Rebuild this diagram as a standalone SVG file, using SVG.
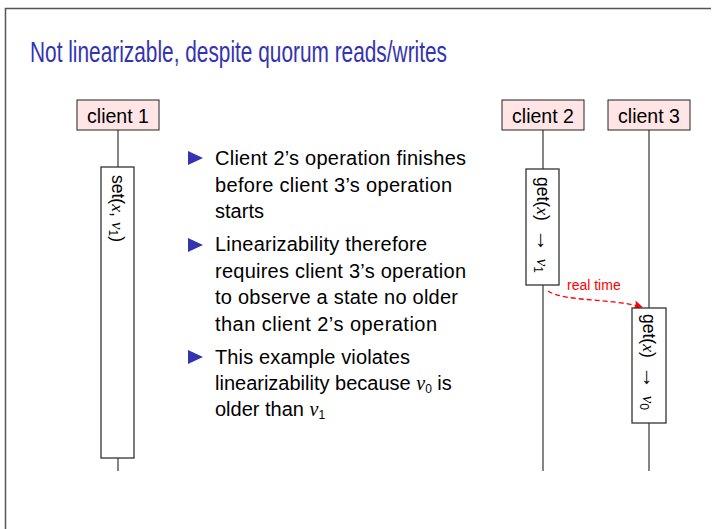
<svg xmlns="http://www.w3.org/2000/svg" width="712" height="529" viewBox="0 0 712 529">
<defs>
<style>
.frame{fill:none;stroke:#555;stroke-width:1.5}
.title{font-family:"Liberation Sans",Arial,sans-serif;font-size:30px;fill:#3333b3}
.cl{fill:#ffe5e5;stroke:#222;stroke-width:1}
.cltxt{font-family:"Liberation Sans",Arial,sans-serif;font-size:19.5px;fill:#000;text-anchor:middle}
.life{stroke:#444;stroke-width:1.3;fill:none}
.op{fill:#fff;stroke:#333;stroke-width:1.3}
.optxt{font-family:"Liberation Sans",Arial,sans-serif;font-size:17.5px;fill:#000}
.m{font-family:"Liberation Serif","Times New Roman",serif;font-style:italic}
.ar{font-family:"Liberation Serif","Times New Roman",serif;font-size:23px}
.sub{font-size:12px}
.body{font-family:"Liberation Sans",Arial,sans-serif;font-size:20px;fill:#000}
.bul{fill:#3333b3}
.rt{stroke:#ff0000;stroke-width:1.3;fill:none;stroke-dasharray:5,3}
.rttxt{font-family:"Liberation Sans",Arial,sans-serif;font-size:14px;fill:#ff0000}
</style>
<marker id="ah" viewBox="0 0 10 10" refX="9" refY="5" markerWidth="9" markerHeight="9" markerUnits="userSpaceOnUse" orient="auto">
<path d="M0,0 L10,5 L0,10 L2,5 z" fill="#ff0000"/>
</marker>
</defs>
<rect width="712" height="529" fill="#fff"/>
<path class="frame" d="M5.5,529 V8.5 H711"/>
<text class="title" x="30" y="62" textLength="417" lengthAdjust="spacingAndGlyphs">Not linearizable, despite quorum reads/writes</text>

<g id="connectors">
<line class="life" x1="118" y1="130" x2="118" y2="167"/>
<line class="life" x1="118" y1="458" x2="118" y2="471"/>
<line class="life" x1="543" y1="130" x2="543" y2="169"/>
<line class="life" x1="543" y1="285" x2="543" y2="471"/>
<line class="life" x1="649" y1="130" x2="649" y2="308"/>
<line class="life" x1="649" y1="423" x2="649" y2="471"/>
<path class="rt" d="M548,291 C565,302 610,298 642,307" marker-end="url(#ah)"/>
<text class="rttxt" x="567" y="290">real time</text>
</g>

<g id="client1">
<rect class="cl" x="77" y="100" width="82" height="30"/>
<text class="cltxt" x="118" y="123">client 1</text>
</g>
<g id="client2">
<rect class="cl" x="502" y="100" width="82" height="30"/>
<text class="cltxt" x="543" y="123">client 2</text>
</g>
<g id="client3">
<rect class="cl" x="608" y="100" width="82" height="30"/>
<text class="cltxt" x="649" y="123">client 3</text>
</g>

<g id="op1">
<rect class="op" x="101" y="167" width="33" height="291"/>
<text class="optxt" transform="translate(111.5,175) rotate(90)">set(<tspan class="m">x</tspan>, <tspan class="m">v</tspan><tspan class="sub" dy="3">1</tspan><tspan dy="-3">)</tspan></text>
</g>
<g id="op2">
<rect class="op" x="526" y="169" width="33" height="116"/>
<text class="optxt" transform="translate(536.5,177) rotate(90)">get(<tspan class="m">x</tspan>) <tspan class="ar" dx="3">→</tspan> <tspan class="m" dx="2">v</tspan><tspan class="sub" dy="3">1</tspan></text>
</g>
<g id="op3">
<rect class="op" x="632" y="308" width="34" height="115"/>
<text class="optxt" transform="translate(642.5,314) rotate(90)">get(<tspan class="m">x</tspan>) <tspan class="ar" dx="3">→</tspan> <tspan class="m" dx="2">v</tspan><tspan class="sub" dy="3">0</tspan></text>
</g>

<g id="bullets">
<polygon class="bul" points="188,151 203,158 188,165"/>
<polygon class="bul" points="188,238 203,245 188,252"/>
<polygon class="bul" points="188,350 203,357 188,364"/>
<text class="body" x="215" y="165" textLength="251">Client 2’s operation finishes</text>
<text class="body" x="215" y="192" textLength="237">before client 3’s operation</text>
<text class="body" x="215" y="218" textLength="49">starts</text>
<text class="body" x="215" y="251" textLength="212">Linearizability therefore</text>
<text class="body" x="215" y="278" textLength="251">requires client 3’s operation</text>
<text class="body" x="215" y="304" textLength="243">to observe a state no older</text>
<text class="body" x="215" y="331" textLength="222">than client 2’s operation</text>
<text class="body" x="215" y="364" textLength="195">This example violates</text>
<text class="body" x="215" y="390">linearizability because <tspan class="m">v</tspan><tspan class="sub" dy="3">0</tspan><tspan dy="-3"> is</tspan></text>
<text class="body" x="215" y="416">older than <tspan class="m">v</tspan><tspan class="sub" dy="3">1</tspan></text>
</g>
</svg>
